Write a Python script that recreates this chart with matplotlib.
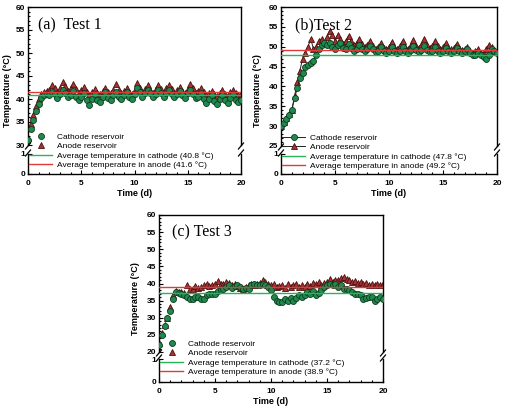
import numpy as np
import matplotlib
matplotlib.use("Agg")
import matplotlib.pyplot as plt
from matplotlib.lines import Line2D
from matplotlib.ticker import MultipleLocator

plt.rcParams['font.family'] = ['Liberation Sans', 'DejaVu Sans']

W, H = 505, 413

# time axis: every 0.25 day from 0 to 20
time_d = [i * 0.25 for i in range(81)]

a_cathode = [31.0, 33.5, 35.5, 37.5, 39.0, 40.2, 40.8, 41.0,
             40.8, 41.5, 41.0, 40.3,
             41.0, 42.0, 41.2, 40.5,
             40.8, 41.8, 40.5, 39.8,
             40.5, 41.2, 39.8, 38.8,
             40.0, 41.0, 39.8, 39.3,
             40.5, 41.5, 40.3, 39.8,
             40.8, 41.5, 40.5, 40.0,
             40.8, 41.5, 40.5, 40.0,
             41.0, 42.5, 41.5, 40.5,
             41.2, 42.0, 41.2, 40.5,
             41.0, 42.0, 41.2, 40.5,
             41.2, 42.0, 41.0, 40.5,
             41.0, 41.8, 40.8, 40.3,
             41.2, 42.0, 41.0, 40.2,
             40.5, 41.2, 40.0, 39.2,
             40.0, 40.8, 39.5, 39.0,
             40.0, 40.8, 39.8, 39.2,
             40.3, 41.0, 39.8, 39.3,
             39.8]
a_anode = [31.5, 34.5, 36.5, 38.5, 40.0, 41.0, 41.5, 41.8,
           42.0, 43.0, 42.3, 41.5,
           42.5, 43.8, 42.8, 41.8,
           42.3, 43.3, 42.2, 41.3,
           42.0, 42.6, 41.6, 40.8,
           41.5, 42.2, 41.4, 41.0,
           41.8, 42.4, 41.6, 41.2,
           42.0, 43.3, 42.0, 41.2,
           41.8, 42.4, 41.5, 41.0,
           42.0, 43.5, 42.5, 41.6,
           42.2, 43.0, 42.0, 41.4,
           42.2, 43.0, 42.2, 41.4,
           42.3, 43.0, 42.2, 41.4,
           42.0, 42.6, 41.8, 41.2,
           42.2, 43.2, 42.3, 41.4,
           41.8, 42.5, 41.6, 40.8,
           41.2, 41.8, 41.0, 40.6,
           41.2, 41.9, 41.1, 40.7,
           41.5, 42.0, 41.2, 40.8,
           41.0]
b_cathode = [30.0, 30.8, 31.8, 32.8, 34.0, 37.0, 39.5, 42.0,
             43.5, 45.0, 45.5, 46.0,
             46.5, 48.0, 49.5, 50.5,
             51.0, 50.5, 51.0, 50.0,
             49.5, 50.5, 51.0, 49.8,
             49.5, 50.8, 49.8, 49.0,
             49.5, 50.5, 49.5, 48.8,
             49.3, 50.3, 49.3, 48.6,
             49.0, 50.0, 49.0, 48.5,
             49.0, 50.0, 49.0, 48.5,
             49.0, 50.0, 49.0, 48.5,
             49.2, 50.2, 49.2, 48.6,
             49.2, 50.2, 49.2, 48.6,
             49.0, 50.0, 49.0, 48.5,
             49.0, 49.8, 49.0, 48.5,
             49.0, 49.8, 49.0, 48.5,
             48.8, 49.3, 48.3, 47.8,
             48.0, 48.5, 47.8, 47.5,
             47.0, 48.0, 49.5, 49.0,
             48.5]
b_anode = [30.0, 31.0, 32.0, 33.0, 34.0, 37.5, 41.0, 44.0,
           47.0, 48.5, 50.0, 52.0,
           49.5, 50.0, 51.5, 52.0,
           51.0, 52.5, 54.0, 53.0,
           51.5, 53.0, 52.0, 50.8,
           51.5, 52.8, 51.5, 50.5,
           51.0, 52.0, 50.8, 50.0,
           50.5, 51.5, 50.3, 49.5,
           50.0, 51.0, 49.8, 49.3,
           50.0, 51.3, 50.0, 49.5,
           50.3, 51.5, 50.0, 49.5,
           50.5, 51.8, 50.3, 49.8,
           50.5, 52.0, 50.5, 49.8,
           50.3, 51.5, 50.2, 49.5,
           50.0, 51.0, 49.8, 49.3,
           49.8, 50.8, 49.8, 49.2,
           49.5, 50.0, 49.0, 48.5,
           49.0, 49.5, 48.5, 48.3,
           49.5, 50.5, 50.0, 49.0,
           49.0]
c_cathode = [22.0, 25.0, 27.5, 30.0, 32.0, 35.5, 37.5, 37.2,
             37.0, 36.5, 36.0, 35.5,
             35.5, 36.2, 36.0, 35.5,
             35.5, 36.5, 36.8, 37.0,
             37.0, 37.8, 38.0, 38.5,
             39.0, 39.5, 38.8, 39.2,
             39.5, 39.0, 38.5, 38.8,
             38.5, 39.5, 40.0, 39.5,
             39.5, 40.0, 39.5, 39.0,
             38.0, 36.0, 35.0, 34.5,
             34.5, 35.5, 35.0, 35.8,
             35.0, 35.8, 36.5, 36.0,
             36.5, 37.5, 37.0, 37.8,
             36.5, 37.2, 38.0, 39.0,
             39.5, 40.0, 39.5, 40.0,
             39.0, 39.5, 38.5, 38.5,
             38.0, 37.5, 37.0, 37.0,
             36.5, 35.5, 35.8, 36.0,
             36.0, 35.0, 35.5, 36.0,
             35.5]
c_anode = [22.5, 25.5, 28.0, 30.0, 33.0, 36.5, 37.8, 37.6,
           37.5, 37.2, 39.5, 38.5,
           38.5, 39.2, 38.8, 39.0,
           39.5, 40.0, 39.4, 39.5,
           40.0, 40.6, 39.8, 40.0,
           40.5, 40.2, 39.5, 39.8,
           39.2, 38.8, 38.5, 39.0,
           39.5, 40.0, 39.5, 39.8,
           40.2, 41.0, 40.5, 39.8,
           39.5, 40.0, 39.0, 39.3,
           39.5, 38.8, 39.8, 39.0,
           39.5, 40.0, 39.0, 39.5,
           39.0, 39.8, 39.2, 40.2,
           39.8, 40.5, 39.5, 40.2,
           40.5, 41.2, 40.5, 41.0,
           41.0, 41.5, 42.0, 41.2,
           41.0, 40.5, 40.8, 40.2,
           40.5, 40.0, 40.2, 39.6,
           40.0, 39.5, 39.8, 39.5,
           40.0]

avg_cathode = [40.8, 47.8, 37.2]
avg_anode = [41.6, 49.2, 38.9]
panel_titles = ['(a)  Test 1', '(b)Test 2', '(c) Test 3']
y_lower = [30, 25, 20]
cathode_label = 'Cathode reservoir'
anode_label = 'Anode reservoir'

GREEN_FACE = '#1f8a4c'
GREEN_EDGE = '#0c3a20'
RED_FACE = '#a83232'
RED_EDGE = '#4a1010'
AVG_GREEN = '#2bb35a'
AVG_RED = '#e23a3a'

fig = plt.figure(figsize=(W / 100, H / 100), dpi=100)

# layout in pixels: (x0, x20, y_top, y_break_top, y_one, y_zero, ylabel_x, title_xy)
layouts = [
    (28, 241, 7, 145, 154, 174, 8, (38, 25)),
    (281, 497, 7, 146, 154, 174, 258, (295, 25)),
    (159, 383, 215, 352, 359, 382, 135, (172, 232)),
]
series = [(a_cathode, a_anode), (b_cathode, b_anode), (c_cathode, c_anode)]


def fx(px):
    return px / W


def fy(py):
    return 1 - py / H


for i, (lay, (cath, anod)) in enumerate(zip(layouts, series)):
    x0, x1, yt, yb, y1, y0, ylx, (tx, ty) = lay
    ax_t = fig.add_axes([fx(x0), fy(yb), (x1 - x0) / W, (yb - yt) / H])
    ax_b = fig.add_axes([fx(x0), fy(y0), (x1 - x0) / W, (y0 - y1) / H], sharex=ax_t)

    with_line = (i == 1)
    ls = '-' if with_line else 'none'
    hc, = ax_t.plot(time_d, cath, linestyle=ls, color='#222222', lw=0.7,
                    marker='o', ms=4.3, mfc=GREEN_FACE, mec=GREEN_EDGE, mew=0.6,
                    label=cathode_label, zorder=3)
    ha, = ax_t.plot(time_d, anod, linestyle=ls, color='#222222', lw=0.7,
                    marker='^', ms=4.6, mfc=RED_FACE, mec=RED_EDGE, mew=0.6,
                    label=anode_label, zorder=2)
    hg = ax_t.axhline(avg_cathode[i], color=AVG_GREEN, lw=1.0, zorder=4,
                      label='Average temperature in cathode (%.1f \u00b0C)' % avg_cathode[i])
    hr = ax_t.axhline(avg_anode[i], color=AVG_RED, lw=1.0, zorder=4,
                      label='Average temperature in anode (%.1f \u00b0C)' % avg_anode[i])

    ax_t.set_xlim(0, 20)
    ax_t.set_ylim(y_lower[i], 60)
    ax_b.set_ylim(0, 1)
    ax_t.yaxis.set_major_locator(MultipleLocator(5))
    ax_t.yaxis.set_minor_locator(MultipleLocator(1))
    ax_b.set_yticks([0, 1])
    ax_b.xaxis.set_major_locator(MultipleLocator(5))
    ax_b.xaxis.set_minor_locator(MultipleLocator(1))

    ax_t.spines['bottom'].set_visible(False)
    ax_b.spines['top'].set_visible(False)
    for ax in (ax_t, ax_b):
        for s in ax.spines.values():
            s.set_linewidth(1.0)
        ax.tick_params(which='both', direction='in', top=False, right=False,
                       labelsize=6, width=0.8, pad=2)
        ax.tick_params(which='major', length=3)
        ax.tick_params(which='minor', length=1.6)
    ax_t.tick_params(which='both', bottom=False, labelbottom=False)
    ax_b.tick_params(axis='x', pad=4)
    for lab in ax_b.get_xticklabels() + ax_b.get_yticklabels() + ax_t.get_yticklabels():
        lab.set_fontweight('bold')

    ax_b.set_xlabel('Time (d)', fontsize=6.5, fontweight='bold', labelpad=1.5)

    fig.text(fx(ylx), fy((yt + y0) / 2), 'Temperature (\u00b0C)', rotation=90,
             ha='center', va='center', fontsize=6.5, fontweight='bold')
    fig.text(fx(tx), fy(ty), panel_titles[i], family=['Liberation Serif', 'DejaVu Serif'],
             fontsize=11.5, ha='left', va='center')

    # break marks
    for xp in (x0, x1):
        for yc in (yb + 1, y1 - 1):
            fig.add_artist(Line2D([fx(xp - 2.5), fx(xp + 2.5)],
                                  [fy(yc + 3), fy(yc - 3)],
                                  transform=fig.transFigure, color='black', lw=0.9))

    leg = fig.legend(handles=[hc, ha, hg, hr], loc='upper left',
                     bbox_to_anchor=(fx(x0 + 1), fy(yb - 12)),
                     frameon=False, fontsize=6, handlelength=2.8,
                     handletextpad=0.6, labelspacing=0.2, borderaxespad=0,
                     borderpad=0)

fig.savefig('out.png', dpi=100)
